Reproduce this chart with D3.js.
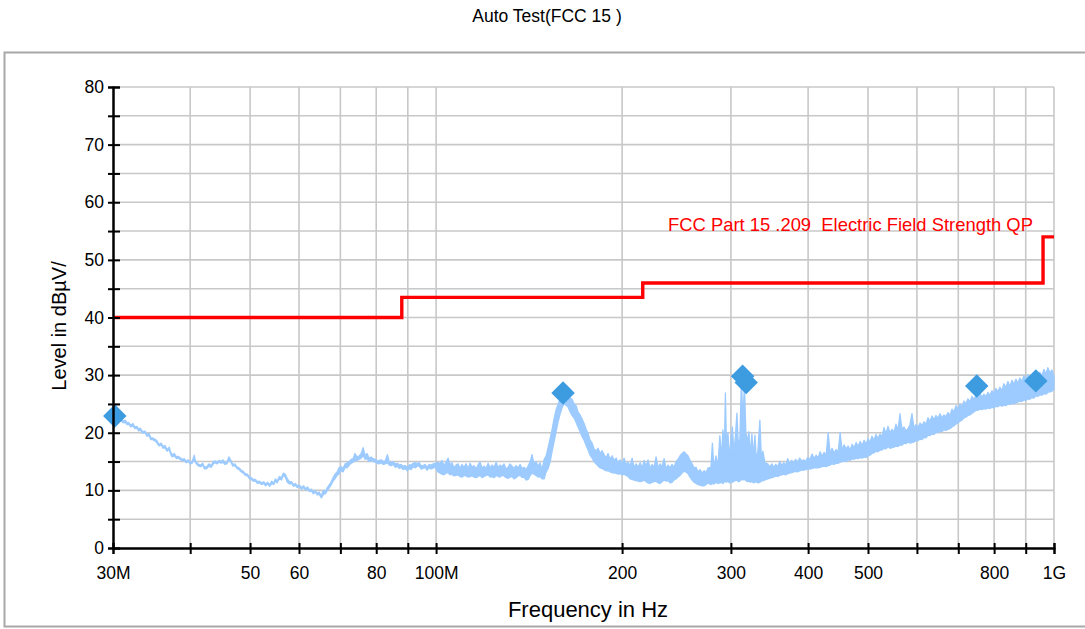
<!DOCTYPE html>
<html>
<head>
<meta charset="utf-8">
<script src="https://cdn.jsdelivr.net/npm/d3@7"></script>
<style>
  body { margin: 0; background: #fff; }
  svg { display: block; }
  text { font-family: "Liberation Sans", Arial, sans-serif; }
</style>
</head>
<body>
<svg id="chart" width="1085" height="629"></svg>
<script>
// Peak-hold sweep, [MHz, min dBµV/m, max dBµV/m] per display bin
const sweepLow = [
  [30.0,22.8,23.1],[30.2,22.5,22.9],[30.4,22.5,22.8],[30.65,22.1,22.4],[30.9,22.2,22.6],
  [31.15,21.7,22.0],[31.4,21.8,22.2],[31.6,21.4,21.7],[31.8,21.5,21.8],[32.05,21.0,21.3],
  [32.3,21.2,21.6],[32.55,20.7,21.0],[32.8,20.8,21.1],[33.0,20.3,20.6],[33.2,20.5,20.8],
  [33.5,19.9,20.2],[33.8,20.0,20.3],[34.05,19.4,19.7],[34.3,19.5,19.9],[34.55,18.8,19.1],
  [34.8,18.8,19.1],[35.05,18.6,18.9],[35.3,18.3,18.7],[35.6,17.7,18.0],[35.9,17.9,18.2],
  [36.15,17.3,17.6],[36.4,17.4,17.8],[36.7,16.8,17.1],[37.0,17.1,17.5],[37.2,16.2,16.6],
  [37.4,15.8,16.2],[37.7,16.0,16.4],[38.0,15.5,15.8],[38.25,15.6,15.9],[38.5,15.4,15.7],
  [38.8,15.1,15.4],[39.1,15.2,15.5],[39.4,14.8,15.1],[39.7,15.0,15.3],[40.0,14.6,14.9],
  [40.3,14.7,15.0],[40.6,15.4,16.1],[40.8,14.8,15.1],[41.0,14.5,14.8],[41.3,14.2,14.5],
  [41.6,14.1,14.4],[41.9,14.4,14.7],[42.2,13.7,14.0],[42.55,13.8,14.1],[42.9,14.2,14.6],
  [43.25,14.0,14.3],[43.6,14.6,15.0],[43.9,14.8,15.1],[44.2,14.6,14.9],[44.55,14.9,15.2],
  [44.9,14.7,15.0],[45.2,14.9,15.3],[45.5,14.5,14.8],[45.85,14.6,14.9],[46.2,15.3,15.8],
  [46.55,14.9,15.2],[46.9,14.2,14.5],[47.25,14.3,14.6],[47.6,13.8,14.1],[48.0,13.6,13.9],
  [48.4,13.2,13.5],[48.75,13.0,13.3],[49.1,12.6,12.9],[49.5,12.5,12.8],[49.9,12.0,12.3],
  [50.25,11.9,12.2],[50.6,11.6,11.9],[51.0,11.6,11.9],[51.4,11.2,11.5],[51.8,11.3,11.6],
  [52.2,11.0,11.3],[52.6,11.2,11.5],[53.0,10.8,11.1],[53.4,11.1,11.4],[53.8,10.7,11.0],
  [54.2,11.2,11.6],[54.6,11.0,11.3],[54.95,11.6,12.0],[55.3,11.3,11.6],[55.75,12.0,12.4],
  [56.2,11.8,12.2],[56.6,12.6,13.0],[57.0,12.3,12.8],[57.45,11.4,12.0],[57.9,11.1,11.5],
  [58.35,11.2,11.5],[58.8,10.7,11.0],[59.2,10.9,11.2],[59.6,10.5,10.8],[60.1,10.6,10.9],
  [60.6,10.2,10.5],[61.05,10.5,10.8],[61.5,10.0,10.3],[61.95,10.3,10.6],[62.4,9.8,10.1],
  [62.85,9.9,10.2],[63.3,9.4,9.7],[63.75,9.7,10.0],[64.2,9.2,9.5],[64.7,9.3,9.7],
  [65.2,8.7,9.0],[65.55,9.1,9.8],[65.9,9.4,10.0],[66.25,9.4,9.8],[66.6,9.9,10.4],
  [67.1,10.4,10.9],[67.6,10.9,11.4],[68.1,11.6,12.2],[68.6,12.0,12.8],[69.15,12.6,13.2],
  [69.7,12.9,14.0],[70.2,13.4,14.1],[70.7,13.2,13.8],[71.25,14.0,14.6],[71.8,13.9,14.8],
  [72.35,14.4,15.0],[72.9,14.7,15.4],[73.4,14.9,15.5],[73.9,15.1,16.4],[74.5,15.2,15.8],
  [75.1,15.4,16.0],[75.65,15.6,16.4],[76.2,16.0,17.4],[76.75,15.4,16.0],[77.3,15.5,16.4],
  [77.9,15.0,15.6],[78.5,15.2,15.8],[79.1,15.0,15.5],[79.7,14.9,15.4],[80.3,14.7,15.1],
  [80.9,14.6,15.2],[81.5,14.8,15.3],[82.1,14.5,15.0],[82.75,14.6,15.1],[83.4,14.8,16.2],
  [84.0,14.4,14.9],[84.6,14.3,14.9],[85.25,14.5,15.0],[85.9,14.0,14.6],[86.55,14.2,14.7],
  [87.2,13.8,14.4],[87.8,14.0,14.5],[88.4,13.6,14.2],[89.1,13.8,14.3],[89.8,13.4,14.0],
  [90.45,13.8,14.4],[91.1,13.6,14.4],[91.8,14.1,14.7],[92.5,13.9,14.8],[93.2,14.2,14.7],
  [93.9,14.2,14.8],[94.6,13.7,14.3],[95.3,13.8,14.3],[96.0,14.0,14.5],[96.7,13.5,14.0],
  [97.45,13.9,14.5],[98.2,13.7,14.4],[98.95,13.9,14.6],[99.7,14.0,14.7]
];
const sweepMid = [
  [100.7,13.2,14.9],[101.5,13.0,14.6],[102.2,12.8,15.2],[103.0,12.7,14.3],[103.8,13.0,14.9],
  [104.6,13.1,15.6],[105.3,12.7,14.4],[106.1,12.8,14.8],[106.9,12.5,13.9],[107.7,12.6,14.4],
  [108.5,12.7,14.6],[109.3,12.4,13.8],[110.1,12.3,14.5],[111.0,12.6,14.0],[111.8,12.5,14.6],
  [112.7,12.3,13.8],[113.5,12.4,14.7],[114.4,12.5,14.0],[115.2,12.3,14.3],[116.1,12.2,13.7],
  [117.0,12.4,14.5],[117.8,12.6,14.9],[118.7,12.2,13.9],[119.6,12.4,14.2],[120.5,12.6,13.8],
  [121.4,12.7,14.7],[122.3,12.3,13.9],[123.2,12.4,14.4],[124.1,12.2,14.0],[125.1,12.6,14.9],
  [126.0,12.4,13.9],[126.9,12.3,14.4],[127.8,12.6,14.1],[128.8,12.5,14.6],[129.8,12.2,13.7],
  [130.8,12.1,14.0],[131.7,12.3,14.6],[132.7,12.4,14.2],[133.7,12.0,13.8],[134.7,12.2,14.3],
  [135.7,12.5,13.9],[136.8,12.6,14.5],[137.8,12.2,13.8],[138.8,12.3,14.0],[139.8,11.8,13.6],
  [140.9,11.9,14.2],[142.0,12.6,15.0],[143.0,13.0,16.2],[144.0,12.8,14.6],[145.1,12.6,15.0],
  [146.2,12.3,14.2],[147.3,12.4,14.8],[148.4,12.0,13.6],[149.6,12.0,15.4],[150.7,13.2,16.0],
  [151.8,13.8,17.4],[153.0,15.0,19.0],[154.1,16.8,20.6],[155.2,18.4,22.4],[156.4,20.2,24.0],
  [157.6,22.0,25.0],[158.8,23.3,25.9],[160.0,24.4,26.6],[161.1,25.0,26.8],[162.3,24.8,26.6],
  [163.6,24.4,26.4],[164.8,23.6,26.0],[166.0,23.0,25.8],[167.2,22.6,25.0],[168.5,21.8,24.7],
  [169.7,21.0,23.6],[171.0,20.2,23.1],[172.3,19.3,22.4],[173.6,18.7,21.6],[174.9,17.8,20.6],
  [176.2,17.0,19.9],[177.5,16.1,18.7],[178.9,15.6,18.2],[180.2,15.0,17.2],[181.5,14.6,16.9],
  [182.9,14.2,17.3],[184.3,13.9,16.4],[185.6,13.8,16.9],[187.0,13.6,16.2],[188.4,13.4,15.6],
  [189.8,13.4,16.4],[191.2,13.2,15.4],[192.7,13.1,16.0],[194.1,13.0,15.2],[195.6,13.0,15.6],
  [197.0,12.8,14.8],[198.5,12.9,15.3],[200.0,12.7,14.6],[201.5,12.8,15.6],[203.0,12.6,14.5],
  [204.5,12.4,14.9],[206.0,12.0,14.2],[207.6,11.9,15.6],[209.1,11.8,14.0],[210.7,11.7,14.6],
  [212.3,11.6,14.0],[213.9,11.5,14.8],[215.5,11.6,13.9],[217.1,11.8,15.2],[218.7,11.5,14.2],
  [220.3,11.3,15.3],[222.0,11.2,13.8],[223.6,11.4,14.5],[225.3,11.5,14.0],[227.0,11.6,15.8],
  [228.7,11.3,13.9],[230.4,11.2,14.6],[232.1,11.5,14.1],[233.9,11.8,15.5],[235.6,11.6,13.8],
  [237.4,11.7,14.4],[239.1,11.3,13.9],[240.9,11.4,14.5],[242.7,11.8,14.0],[244.6,12.0,15.0],
  [246.4,12.3,15.4],[248.2,12.6,16.0],[250.1,13.0,16.4],[252.0,13.3,16.7],[253.8,13.2,16.3],
  [255.7,12.9,16.0],[257.6,12.3,15.2],[259.6,11.8,14.6],[261.5,11.4,13.9],[263.5,11.2,14.0],
  [265.4,11.0,13.2],[267.4,10.9,13.6],[269.4,10.8,13.0],[271.5,10.8,13.4],[273.5,11.0,13.1],
  [275.5,11.3,13.9],[278.5,11.0,14.0],[280.0,11.2,18.2],[281.6,11.1,13.8],[283.7,11.4,16.0],
  [285.8,11.2,14.2],[287.9,11.3,19.5],[289.6,11.4,15.5],[291.2,11.2,20.5],[292.8,11.5,17.0],
  [293.9,11.6,26.9],[295.0,11.4,18.0],[296.7,11.6,20.0],[298.3,11.3,15.5],[300.0,11.5,19.0],
  [301.7,11.4,21.0],[303.4,11.6,16.5],[305.1,11.7,19.5],[306.8,11.8,23.4],[308.5,11.5,17.5],
  [310.2,11.6,19.0],[312.0,11.9,29.3],[313.7,11.8,22.0],[315.5,11.9,28.4],[317.2,11.7,20.0],
  [319.0,11.5,18.5],[320.8,11.6,20.2],[322.6,11.4,16.0],[324.4,11.6,19.8],[326.2,11.3,15.8],
  [328.1,11.4,19.6],[329.9,11.5,15.0],[331.8,11.3,17.0],[334.2,11.4,22.2],[336.1,11.6,15.5],
  [338.0,11.7,16.8],[340.5,11.8,14.8],[344.1,12.0,14.6],[346.7,12.1,14.1],[349.3,12.2,14.6],
  [351.9,12.3,14.0],[354.5,12.5,14.5],[357.2,12.4,14.1],[359.9,12.6,15.0],[362.6,12.7,14.3],
  [365.3,12.8,14.8],[368.0,12.7,14.4],[370.7,12.9,15.5],[373.5,13.0,14.6],[376.3,13.1,15.2],
  [379.1,13.2,14.8],[381.9,13.3,15.4],[384.7,13.2,14.9],[387.6,13.4,15.6],[390.5,13.5,15.1],
  [393.4,13.5,15.3],[396.3,13.6,15.0],[399.3,13.7,15.7]
];
const sweepHigh = [
  [402.6,13.7,15.4],[406.0,13.8,16.3],[409.0,13.9,15.5],[412.1,13.9,16.1],[415.2,13.9,15.6],
  [418.3,14.0,16.7],[421.4,14.1,15.9],[424.6,14.2,16.6],[427.8,14.1,16.0],[431.0,14.3,20.0],
  [434.2,14.4,16.4],[437.4,14.6,17.3],[440.7,14.5,16.5],[444.0,14.7,17.1],[447.3,14.7,16.6],
  [450.7,14.9,20.0],[454.0,15.0,17.0],[457.4,15.1,17.9],[460.8,15.0,17.2],[464.3,15.3,17.7],
  [467.8,15.2,17.0],[471.3,15.5,18.0],[474.8,15.4,17.4],[478.4,15.6,18.3],[482.0,15.5,17.6],
  [485.6,15.7,18.5],[489.2,15.6,17.8],[492.8,15.8,18.7],[496.5,15.7,18.0],[500.2,16.0,19.0],
  [503.8,16.1,18.3],[507.5,16.4,19.4],[511.3,16.5,18.7],[515.1,16.8,19.7],[519.0,16.7,19.0],
  [522.9,17.0,19.8],[526.8,17.0,19.3],[530.7,17.3,20.9],[534.7,17.2,19.8],[538.7,17.6,21.1],
  [542.7,17.3,20.0],[546.8,17.4,20.6],[550.9,17.5,20.1],[555.0,17.7,21.5],[559.1,17.6,20.4],
  [563.3,17.9,23.3],[567.5,17.8,20.6],[571.8,18.2,21.0],[576.0,18.1,20.3],[580.3,18.4,20.7],
  [584.7,18.2,21.4],[589.1,18.3,23.3],[593.5,18.4,20.8],[597.9,18.6,21.4],[602.4,18.6,20.9],
  [607.0,18.9,21.7],[611.5,18.8,21.2],[616.1,19.2,21.9],[620.7,19.1,21.5],[625.3,19.6,22.6],
  [630.0,19.5,22.0],[634.7,19.8,22.9],[639.4,19.7,22.3],[644.2,20.1,23.0],[649.0,20.0,22.5],
  [653.9,20.3,23.3],[658.8,20.2,22.6],[663.7,20.5,23.1],[668.6,20.4,22.8],[673.6,20.6,23.5],
  [678.6,20.7,23.0],[683.7,21.0,24.1],[688.8,21.2,23.6],[694.0,21.5,24.7],[699.2,21.7,24.1],
  [704.4,22.0,25.0],[709.7,22.2,24.5],[715.0,22.6,25.5],[720.3,22.7,25.0],[725.7,23.0,25.9],
  [731.1,23.1,25.4],[736.6,23.4,26.3],[742.1,23.6,25.8],[747.6,23.9,26.5],[753.2,23.9,26.1],
  [758.8,24.1,26.9],[764.5,24.0,26.2],[770.2,24.2,26.7],[776.0,24.1,26.3],[781.8,24.3,27.0],
  [787.6,24.2,26.5],[793.5,24.4,27.3],[799.4,24.3,26.8],[805.4,24.6,27.7],[811.4,24.5,27.1],
  [817.5,24.8,27.9],[823.6,24.6,27.3],[829.7,24.8,28.5],[835.9,24.7,27.8],[842.2,25.0,28.9],
  [848.5,24.9,28.0],[854.8,25.1,29.1],[861.2,25.0,28.4],[867.6,25.2,29.3],[874.1,25.3,28.6],
  [880.6,25.5,29.5],[887.2,25.4,28.9],[893.8,25.7,29.9],[900.5,25.6,29.2],[907.2,25.9,30.1],
  [914.0,25.8,29.4],[920.8,26.1,29.8],[927.7,26.0,29.5],[934.6,26.4,30.3],[941.6,26.3,29.7],
  [948.6,26.6,30.5],[955.7,26.5,29.9],[962.9,26.8,31.0],[970.1,26.7,30.2],[977.3,27.0,31.3],
  [984.6,27.1,30.4],[991.9,27.2,30.9],[1000,27.5,29.8]
];

// Final (QP) measurement points
const markerMHz   = [30.2, 160.5, 313.4, 317.6, 749.8, 934.6];
const markerLevel = [22.9, 26.9, 29.8, 28.7, 28.1, 29.0];

// FCC Part 15.209 radiated limit, step function
const limitMHz   = [30, 88, 88, 216, 216, 960, 960, 1000];
const limitLevel = [40, 40, 43.5, 43.5, 46, 46, 54, 54];

const xTickMHz  = [30, 40, 50, 60, 70, 80, 90, 100, 200, 300, 400, 500, 600, 700, 800, 900, 1000];
const xTickText = ["30M", "", "50", "60", "", "80", "", "100M", "200", "300", "400", "500", "", "", "800", "", "1G"];
const yTicks    = [0, 5, 10, 15, 20, 25, 30, 35, 40, 45, 50, 55, 60, 65, 70, 75, 80];
const yTickText = ["0", "", "10", "", "20", "", "30", "", "40", "", "50", "", "60", "", "70", "", "80"];

const svg = d3.select("#chart");
const x = d3.scaleLog().domain([30, 1000]).range([113, 1054]);
const y = d3.scaleLinear().domain([0, 80]).range([548, 87]);

// outer frame
svg.append("rect")
  .attr("x", 4.5).attr("y", 52.5).attr("width", 1100).attr("height", 574)
  .attr("fill", "none").attr("stroke", "#a8a8a8").attr("stroke-width", 2);

// title
svg.append("text")
  .attr("x", 547).attr("y", 22)
  .attr("text-anchor", "middle")
  .attr("font-size", 17.5).attr("fill", "#000")
  .text("Auto Test(FCC 15 )");

// grid
const grid = svg.append("g").attr("stroke", "#c8c8c8").attr("stroke-width", 1.6);
grid.selectAll("line.h").data(yTicks.slice(1)).join("line")
  .attr("x1", x(30)).attr("x2", x(1000))
  .attr("y1", d => y(d)).attr("y2", d => y(d));
grid.selectAll("line.v").data(xTickMHz.slice(1)).join("line")
  .attr("x1", d => x(d)).attr("x2", d => x(d))
  .attr("y1", y(0)).attr("y2", y(80));

// limit line
const limitPts = limitMHz.map((f, i) => [f, limitLevel[i]]);
svg.append("path")
  .datum(limitPts)
  .attr("fill", "none").attr("stroke", "#ff0000").attr("stroke-width", 3.4)
  .attr("d", d3.line().x(d => x(d[0])).y(d => y(d[1])));

svg.append("text")
  .attr("x", 668).attr("y", 231)
  .attr("font-size", 18.4).attr("fill", "#ff0000")
  .attr("xml:space", "preserve")
  .text("FCC Part 15 .209  Electric Field Strength QP");

// sweep trace (min/max envelope)
const sweep = sweepLow.concat(sweepMid, sweepHigh);
svg.append("path")
  .datum(sweep)
  .attr("fill", "#9dcbff").attr("stroke", "#9dcbff").attr("stroke-width", 1.3)
  .attr("stroke-linejoin", "round")
  .attr("d", d3.area().x(d => x(d[0])).y0(d => y(d[1])).y1(d => y(d[2])));

// measurement markers
const diamond = d3.symbol().type(d3.symbolSquare).size(275);
svg.selectAll("path.marker").data(markerMHz).join("path")
  .attr("class", "marker")
  .attr("fill", "#3d9be0")
  .attr("d", diamond)
  .attr("transform", (d, i) => `translate(${x(d)},${y(markerLevel[i])}) rotate(45)`);

// axes
const fmtX = d => xTickText[xTickMHz.indexOf(d)];
const fmtY = d => yTickText[yTicks.indexOf(d)];

svg.append("g").attr("transform", `translate(0,${y(0)})`)
  .call(d3.axisBottom(x).tickValues(xTickMHz).tickFormat(fmtX).tickSize(6).tickPadding(13));
svg.append("g").attr("transform", `translate(0,${y(0)})`)
  .call(d3.axisBottom(x).tickValues(xTickMHz).tickFormat("").tickSize(-5));

svg.append("g").attr("transform", `translate(${x(30)},0)`)
  .call(d3.axisLeft(y).tickValues(yTicks).tickFormat(fmtY).tickSize(5).tickPadding(4));
svg.append("g").attr("transform", `translate(${x(30)},0)`)
  .call(d3.axisLeft(y).tickValues(yTicks).tickFormat("").tickSize(-7));

svg.selectAll(".domain").attr("stroke", "#000").attr("stroke-width", 2);
svg.selectAll(".tick line").attr("stroke", "#000").attr("stroke-width", 2);
svg.selectAll(".tick text").attr("font-size", 17.5).attr("fill", "#000")
  .attr("font-family", "'Liberation Sans', Arial, sans-serif");

// axis titles
svg.append("text")
  .attr("x", 588).attr("y", 617)
  .attr("text-anchor", "middle")
  .attr("font-size", 22).attr("fill", "#000")
  .text("Frequency in Hz");

svg.append("text")
  .attr("transform", "translate(66,326) rotate(-90)")
  .attr("text-anchor", "middle")
  .attr("font-size", 20).attr("fill", "#000")
  .text("Level in dBµV/");
</script>
</body>
</html>
